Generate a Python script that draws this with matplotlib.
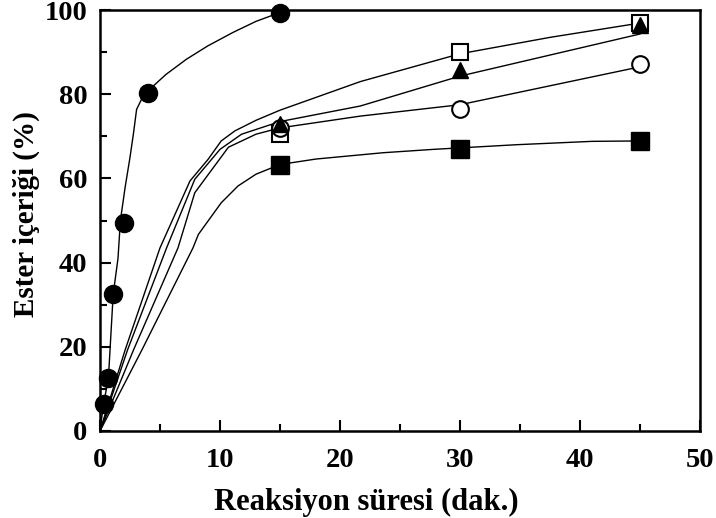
import matplotlib
matplotlib.use("Agg")
import matplotlib.pyplot as plt
from matplotlib.ticker import MultipleLocator

plt.rcParams['font.family'] = ['Liberation Serif', 'DejaVu Serif']
plt.rcParams['font.weight'] = 'bold'

# ---- marker data ----
fc_t = [0.3, 0.7, 1.1, 2.0, 4.0, 15]
fc_y = [6.5, 12.5, 32.5, 49.3, 80.4, 99.4]

os_t = [15, 30, 45]
os_y = [70.5, 90.0, 96.9]

tr_t = [15, 30, 45]
tr_y = [73.0, 85.7, 96.4]

oc_t = [15, 30, 45]
oc_y = [72.0, 76.4, 87.1]

fs_t = [15, 30, 45]
fs_y = [63.3, 66.9, 68.9]

# ---- fitted curves ----
fc_curve_t = [0, 0.3, 0.7, 1.1, 1.5, 1.7, 2.1, 2.5, 2.8, 3.05, 3.6, 4.0, 5.5, 7.2, 9.0, 11.1, 13.0, 15.0]
fc_curve_y = [0, 6.5, 12.5, 32.5, 41, 50, 58, 65, 70.9, 76.4, 79.6, 80.8, 84.7, 88.3, 91.5, 94.7, 97.3, 99.4]

os_curve_t = [0, 2.1, 5.0, 7.5, 9.0, 10.1, 11.25, 13.0, 15.0, 21.7, 30.0, 37.5, 45.0]
os_curve_y = [0, 19.3, 43.5, 59.4, 64.5, 68.9, 71.3, 73.8, 76.2, 83.0, 89.6, 93.5, 96.9]

tr_curve_t = [0, 2.3, 5.55, 7.9, 10.0, 11.8, 15.0, 21.7, 30.0, 37.5, 45.0]
tr_curve_y = [0, 19.3, 43.5, 59.8, 66.9, 70.5, 73.5, 77.2, 84.3, 89.3, 94.3]

oc_curve_t = [0, 2.8, 6.5, 7.9, 10.7, 13.0, 15.0, 21.7, 30.0, 37.5, 45.0]
oc_curve_y = [0, 19.3, 43.5, 56.6, 67.4, 70.5, 72.0, 74.8, 77.5, 82.0, 86.5]

fs_curve_t = [0, 3.5, 7.75, 8.2, 10.1, 11.5, 13.0, 15.0, 18.0, 23.6, 27.8, 34.7, 41.0, 45.0]
fs_curve_y = [0, 19.3, 43.5, 46.7, 54.2, 58.2, 61.0, 63.3, 64.6, 66.1, 66.9, 68.0, 68.8, 68.9]

x_ticks = [0, 10, 20, 30, 40, 50]
y_ticks = [0, 20, 40, 60, 80, 100]
xlabel = "Reaksiyon süresi (dak.)"
ylabel = "Ester içeriği (%)"

fig = plt.figure(figsize=(7.16, 5.18), dpi=100)
ax = fig.add_axes([100/716, 1-431/518, 600/716, 421/518])

lw = 1.0
for ct, cy in [(fc_curve_t, fc_curve_y), (os_curve_t, os_curve_y), (tr_curve_t, tr_curve_y),
               (oc_curve_t, oc_curve_y), (fs_curve_t, fs_curve_y)]:
    ax.plot(ct, cy, color='black', lw=lw, zorder=2)

ax.plot(fc_t, fc_y, 'o', ms=13, mfc='black', mec='black', zorder=3, clip_on=False)
ax.plot(os_t, os_y, 's', ms=12, mfc='white', mec='black', mew=1.5, zorder=3, clip_on=False)
ax.plot(oc_t, oc_y, 'o', ms=12, mfc='white', mec='black', mew=1.5, zorder=3, clip_on=False)
ax.plot(fs_t, fs_y, 's', ms=13, mfc='black', mec='black', zorder=3, clip_on=False)
ax.plot(tr_t, tr_y, '^', ms=12, mfc='black', mec='black', zorder=4, clip_on=False)

ax.set_xlim(0, 50)
ax.set_ylim(0, 100)
ax.set_xticks(x_ticks)
ax.set_yticks(y_ticks)
ax.xaxis.set_minor_locator(MultipleLocator(5))
ax.yaxis.set_minor_locator(MultipleLocator(10))
ax.tick_params(which='major', direction='in', length=8, width=1.5, labelsize=20.5, pad=12)
ax.tick_params(which='minor', direction='in', length=5, width=1.5)
ax.tick_params(axis='y', pad=9)
for lab in ax.get_xticklabels() + ax.get_yticklabels():
    lab.set_fontweight('bold')
for s in ax.spines.values():
    s.set_linewidth(1.8)

fig.text(366/716, 1-502/518, xlabel, ha='center', va='center', fontsize=22, fontweight='bold')
fig.text(26/716, 1-214/518, ylabel, ha='center', va='center', rotation=90, fontsize=21, fontweight='bold')

fig.savefig("out.png", dpi=100)
